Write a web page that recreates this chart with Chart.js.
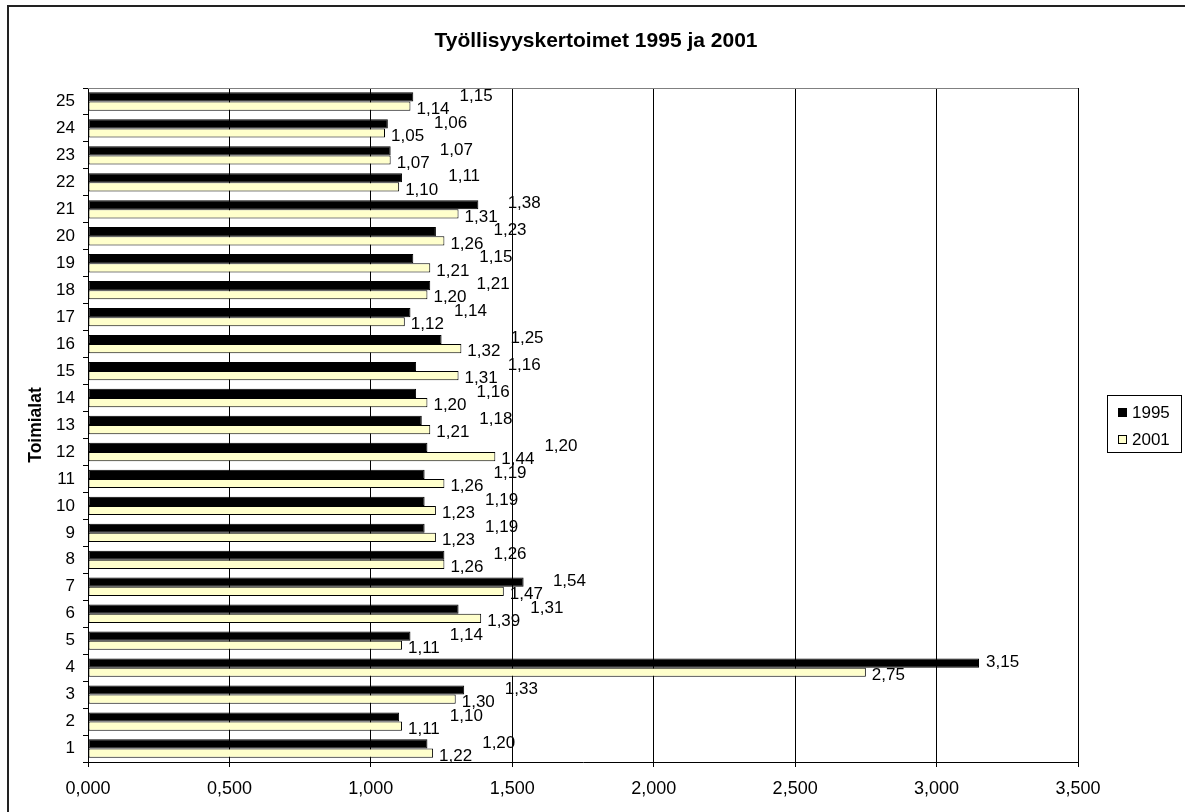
<!DOCTYPE html>
<html>
<head>
<meta charset="utf-8">
<script src="https://cdn.jsdelivr.net/npm/chart.js@4.4.1/dist/chart.umd.min.js"></script>
<style>
  html, body { margin: 0; padding: 0; background: #fff; }
  canvas { display: block; }
</style>
</head>
<body>
<canvas id="chart" width="1185" height="812"></canvas>
<script>
// Työllisyyskertoimet per toimiala
const categories = ['1', '2', '3', '4', '5', '6', '7', '8', '9', '10', '11', '12', '13',
    '14', '15', '16', '17', '18', '19', '20', '21', '22', '23', '24', '25'];
const values1995 = [1.20, 1.10, 1.33, 3.15, 1.14, 1.31, 1.54, 1.26, 1.19, 1.19, 1.19, 1.20, 1.18,
    1.16, 1.16, 1.25, 1.14, 1.21, 1.15, 1.23, 1.38, 1.11, 1.07, 1.06, 1.15];
const values2001 = [1.22, 1.11, 1.30, 2.75, 1.11, 1.39, 1.47, 1.26, 1.23, 1.23, 1.26, 1.44, 1.21,
    1.20, 1.31, 1.32, 1.12, 1.20, 1.21, 1.26, 1.31, 1.10, 1.07, 1.05, 1.14];
const xTickValues = [0, 0.5, 1, 1.5, 2, 2.5, 3, 3.5];

const FONT = 'Arial, "Liberation Sans", sans-serif';

function fmt(v, d) {
    return v.toFixed(d).replace('.', ',');
}

// title, legend, data labels and frame
const extras = {
    id: 'extras',
    beforeDraw(chart) {
        const c = chart.ctx;
        c.save();
        c.fillStyle = '#fff';
        c.fillRect(0, 0, chart.width, chart.height);
        c.restore();
    },
    afterDatasetsDraw(chart) {
        const c = chart.ctx;
        const m0 = chart.getDatasetMeta(0).data;
        const m1 = chart.getDatasetMeta(1).data;
        c.save();
        c.font = '17px ' + FONT;
        c.fillStyle = '#000';
        c.textAlign = 'left';
        c.textBaseline = 'middle';
        for (let i = 0; i < categories.length; i++) {
            const b0 = m0[i], b1 = m1[i];
            const t1 = fmt(values2001[i], 2);
            const t0 = fmt(values1995[i], 2);
            c.fillText(t1, b1.x + 6, b1.y + 3);
            const w1 = c.measureText(t1).width;
            const x0 = Math.max(b0.x + 7, b1.x + 6 + w1 + 10);
            c.fillText(t0, x0, b0.y - 1);
        }
        c.restore();
    },
    afterDraw(chart) {
        const c = chart.ctx;
        const a = chart.chartArea;
        c.save();
        // plot area top border
        c.strokeStyle = '#808080';
        c.lineWidth = 1;
        c.beginPath();
        c.moveTo(a.left, a.top + 0.5);
        c.lineTo(a.right, a.top + 0.5);
        c.stroke();

        // outer frame
        c.strokeStyle = '#222';
        c.lineWidth = 2;
        c.strokeRect(8, 6, 1200, 830);

        // title
        c.fillStyle = '#000';
        c.font = 'bold 21px ' + FONT;
        c.textAlign = 'center';
        c.textBaseline = 'middle';
        c.fillText('Työllisyyskertoimet 1995 ja 2001', 596, 41);

        // legend
        c.strokeStyle = '#000';
        c.lineWidth = 1;
        c.strokeRect(1107.5, 395.5, 74, 57);
        c.font = '17px ' + FONT;
        c.textAlign = 'left';
        chart.data.datasets.forEach((ds, i) => {
            const y = 412 + i * 27;
            c.fillStyle = ds.backgroundColor;
            c.fillRect(1118, y - 4, 9, 9);
            c.strokeStyle = '#000';
            c.strokeRect(1118.5, y - 3.5, 8, 8);
            c.fillStyle = '#000';
            c.fillText(ds.label, 1132, y + 1);
        });
        c.restore();
    }
};

new Chart(document.getElementById('chart'), {
    type: 'bar',
    data: {
        labels: categories,
        datasets: [{
            label: '1995',
            data: values1995,
            backgroundColor: '#000000',
            borderColor: '#000000',
            borderWidth: 1,
            borderSkipped: false
        }, {
            label: '2001',
            data: values2001,
            backgroundColor: '#FFFFCC',
            borderColor: '#000000',
            borderWidth: 1,
            borderSkipped: false
        }]
    },
    options: {
        indexAxis: 'y',
        responsive: false,
        animation: false,
        categoryPercentage: 0.68,
        barPercentage: 1.0,
        layout: {
            padding: { left: 0, top: 88, right: 107, bottom: 0 }
        },
        plugins: {
            legend: { display: false },
            title: { display: false },
            tooltip: { enabled: false }
        },
        scales: {
            x: {
                type: 'linear',
                min: 0,
                max: 3.5,
                afterBuildTicks: (s) => { s.ticks = xTickValues.map(v => ({ value: v })); },
                afterFit: (s) => { s.height = 50; },
                ticks: {
                    color: '#000',
                    font: { family: FONT, size: 18 },
                    padding: 11,
                    maxRotation: 0,
                    callback: (v) => fmt(v, 3)
                },
                grid: {
                    color: '#000',
                    lineWidth: 1,
                    tickLength: 5,
                    drawTicks: true
                },
                border: { color: '#000', width: 1 }
            },
            y: {
                type: 'category',
                reverse: true,
                offset: true,
                afterFit: (s) => { s.width = 88; },
                ticks: {
                    color: '#000',
                    font: { family: FONT, size: 17 },
                    padding: 8
                },
                grid: {
                    offset: true,
                    drawOnChartArea: false,
                    drawTicks: true,
                    tickLength: 5,
                    color: '#000'
                },
                border: { color: '#000', width: 1 },
                title: {
                    display: true,
                    text: 'Toimialat',
                    color: '#000',
                    font: { family: FONT, size: 17.5, weight: 'bold' },
                    padding: { top: 26, bottom: 0 }
                }
            }
        }
    },
    plugins: [extras]
});
</script>
</body>
</html>
